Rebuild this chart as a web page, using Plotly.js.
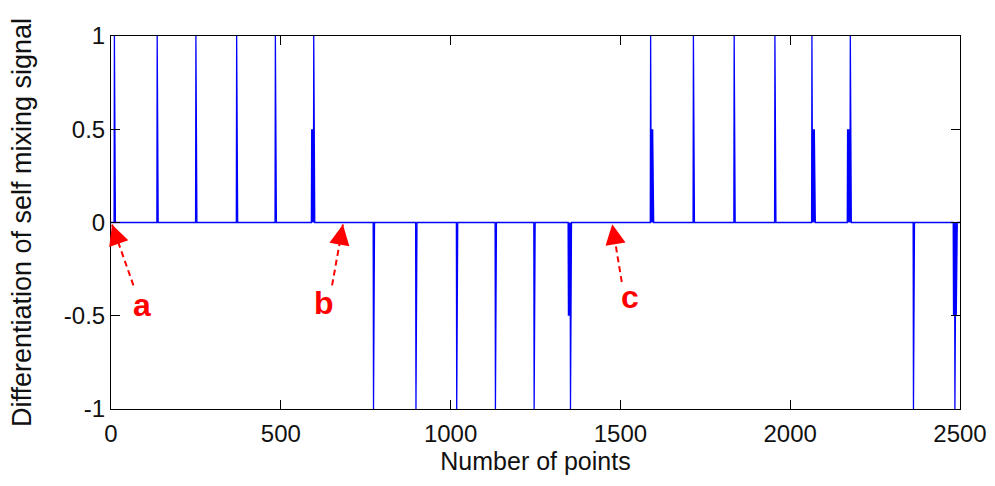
<!DOCTYPE html>
<html>
<head>
<meta charset="utf-8">
<script src="https://cdn.plot.ly/plotly-3.0.1.min.js"></script>
<style>html,body{margin:0;padding:0;background:#fff;}#chart{width:995px;height:486px;}</style>
</head>
<body>
<div id="chart"></div>
<script>
// ---- data ----
const nPoints = 2500;
// full-height spikes (sample index, value)
const fullIdx = [10, 136, 250, 370, 484, 597, 773, 898, 1018, 1132, 1246, 1353, 1589, 1715, 1835, 1955, 2064, 2177, 2363, 2485];
const fullVal = [1, 1, 1, 1, 1, 1, -1, -1, -1, -1, -1, -1, 1, 1, 1, 1, 1, 1, -1, -1];
// half-height spikes (sample index, value)
const halfIdx = [591, 594, 1347, 1350, 1592, 1595, 2067, 2071, 2169, 2173, 2481, 2489];
const halfVal = [0.5, 0.5, -0.5, -0.5, 0.5, 0.5, 0.5, 0.5, 0.5, 0.5, -0.5, -0.5];
// arrow annotations: label, tip (x,y), tail (x,y), label position (x,y)
const arrowLabels = ['a', 'b', 'c'];
const arrowTipX = [3, 683, 1476];
const arrowTipY = [-0.011, -0.011, -0.009];
const arrowTailX = [66, 651, 1504];
const arrowTailY = [-0.337, -0.337, -0.319];
const labelX = [91, 626, 1529];
const labelY = [-0.44, -0.43, -0.40];
const xTicks = [0, 500, 1000, 1500, 2000, 2500];
const yTicks = [-1, -0.5, 0, 0.5, 1];
const yTickText = ['-1', '-0.5', '0', '0.5', '1'];

// ---- build signal ----
const xs = [], ys = [];
for (let i = 0; i <= nPoints; i++) { xs.push(i); ys.push(0); }
halfIdx.forEach((p, k) => { ys[p] = halfVal[k]; });
fullIdx.forEach((p, k) => { ys[p] = fullVal[k]; });

const trace = {
  x: xs, y: ys, type: 'scatter', mode: 'lines',
  line: {color: '#0000ff', width: 1.3}, hoverinfo: 'skip', showlegend: false
};

const shapes = [], annotations = [];
arrowLabels.forEach((lab, k) => {
  shapes.push({type: 'line', xref: 'x', yref: 'y',
    x0: arrowTailX[k], y0: arrowTailY[k], x1: arrowTipX[k], y1: arrowTipY[k],
    line: {color: '#ff0000', width: 2, dash: '6px,4px'}});
  annotations.push({x: arrowTipX[k], y: arrowTipY[k], xref: 'x', yref: 'y',
    ax: arrowTipX[k] + 0.3 * (arrowTailX[k] - arrowTipX[k]),
    ay: arrowTipY[k] + 0.3 * (arrowTailY[k] - arrowTipY[k]),
    axref: 'x', ayref: 'y', text: '', showarrow: true,
    arrowhead: 2, arrowsize: 2.7, arrowwidth: 1.5, arrowcolor: '#ff0000'});
  annotations.push({x: labelX[k], y: labelY[k], xref: 'x', yref: 'y',
    text: '<b>' + lab + '</b>', showarrow: false,
    font: {family: 'Liberation Sans, Arial, sans-serif', size: 32, color: '#ff0000'}});
});

const font = {family: 'Liberation Sans, Arial, sans-serif', size: 24, color: '#111'};
const layout = {
  width: 995, height: 486,
  margin: {l: 111, r: 35, t: 36, b: 77},
  paper_bgcolor: '#fff', plot_bgcolor: '#fff',
  font: font,
  xaxis: {range: [0, 2500], tickvals: xTicks, ticktext: xTicks.map(String),
    ticks: 'inside', ticklen: 9, tickwidth: 1, tickcolor: '#000',
    showline: true, linecolor: '#000', linewidth: 1, mirror: 'ticks',
    showgrid: false, zeroline: false, tickfont: font, ticklabelstandoff: 3,
    title: {text: 'Number of points', font: {family: font.family, size: 25, color: '#111'}, standoff: 4}},
  yaxis: {range: [-1, 1], tickvals: yTicks, ticktext: yTickText,
    ticks: 'inside', ticklen: 9, tickwidth: 1, tickcolor: '#000',
    showline: true, linecolor: '#000', linewidth: 1, mirror: 'ticks',
    showgrid: false, zeroline: false, tickfont: font,
    title: {text: 'Differentiation of self mixing signal', font: {family: font.family, size: 27, color: '#111'}, standoff: 24}},
  shapes: shapes, annotations: annotations
};
Plotly.newPlot('chart', [trace], layout, {displayModeBar: false, staticPlot: true});
</script>
</body>
</html>
